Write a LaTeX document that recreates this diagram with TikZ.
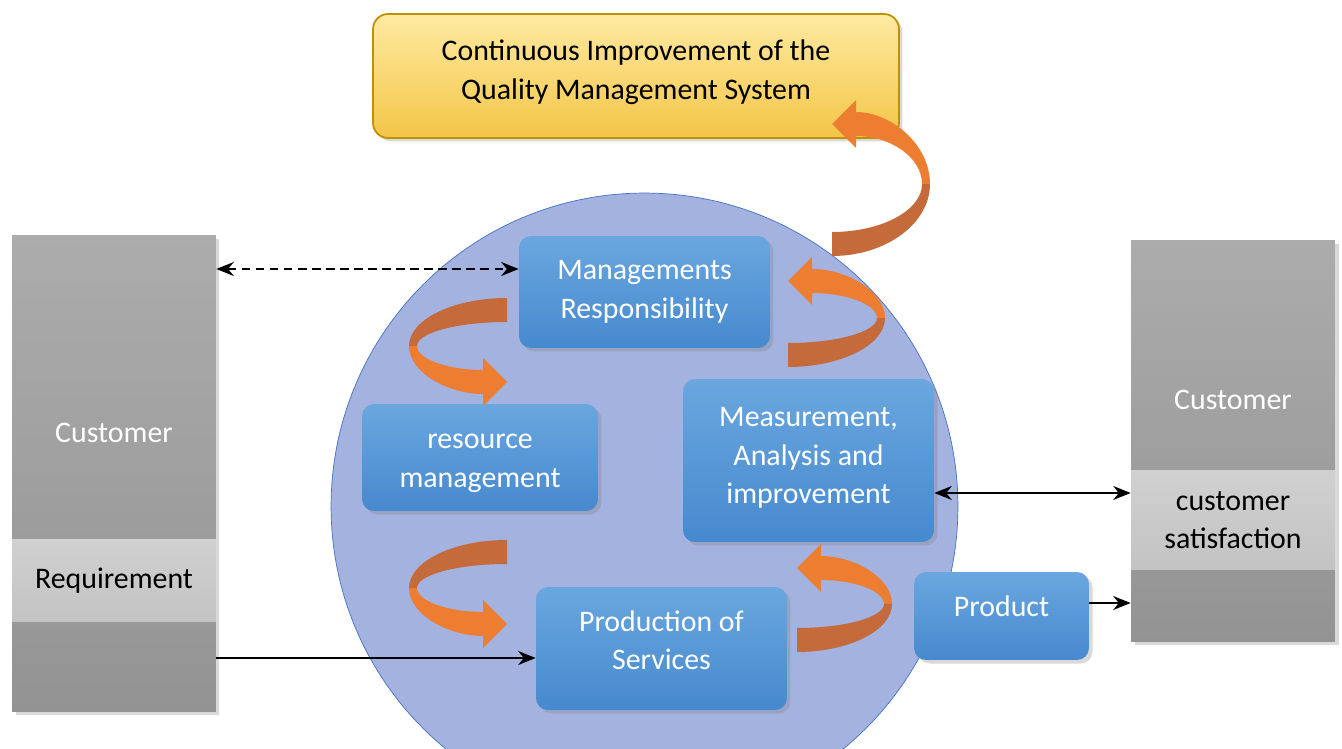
\documentclass[tikz,border=0pt]{standalone}
\usepackage{fontspec}
\setmainfont{Carlito}
\usetikzlibrary{shapes,positioning,calc,arrows.meta,shadows}

\definecolor{qmscircle}{RGB}{163,178,223}
\definecolor{qmsline}{RGB}{68,114,196}
\definecolor{boxtop}{RGB}{106,167,223}
\definecolor{boxbot}{RGB}{70,137,206}
\definecolor{coltop}{RGB}{172,172,172}
\definecolor{colbot}{RGB}{147,147,147}
\definecolor{bandtop}{RGB}{208,208,208}
\definecolor{bandbot}{RGB}{195,195,195}
\definecolor{goaltop}{RGB}{255,234,162}
\definecolor{goalbot}{RGB}{242,197,70}
\definecolor{goalline}{RGB}{191,144,0}
\definecolor{ribfront}{RGB}{237,125,49}
\definecolor{ribback}{RGB}{197,106,58}

\tikzset{
    softshadow/.style={drop shadow={opacity=.3, shadow xshift=2pt, shadow yshift=-2pt}},
    procbox/.style={rectangle, rounded corners=0.24cm, top color=boxtop, bottom color=boxbot, text=white, align=center, softshadow},
    goalbox/.style={rectangle, rounded corners=0.3cm, top color=goaltop, bottom color=goalbot, draw=goalline, line width=1pt, align=center, minimum width=10.52cm, minimum height=2.48cm, softshadow},
    custcol/.style={rectangle, top color=coltop, bottom color=colbot, minimum width=4.08cm, softshadow},
    custband/.style={rectangle, top color=bandtop, bottom color=bandbot, minimum width=4.08cm, align=center},
    oneway/.style={line width=1pt, -{Stealth[length=3.5mm, width=2.8mm]}},
    twoway/.style={line width=1pt, {Stealth[length=3.5mm, width=2.8mm]}-{Stealth[length=3.5mm, width=2.8mm]}},
    ribfill/.style={fill=ribfront},
    ribdark/.style={fill=ribback}
}

\begin{document}
\begin{tikzpicture}[x=0.02cm, y=-0.02cm, font=\fontsize{17}{22}\selectfont]
    \useasboundingbox (0,0) rectangle (1342,749);
    \clip (0,0) rectangle (1342,749);

    % Background circle
    \draw [draw=qmsline, fill=qmscircle] (644.5,506.5) circle [radius=6.27cm];

    % Goal box
    \node [goalbox, text depth=0.26cm] (cimp) at (636,76) {Continuous Improvement of the\\Quality Management System};

    % Customer columns
    \node [custcol, minimum height=9.54cm] (custL) at (114,473.5) {};
    \node [text=white] (custLtxt) at (114,433) {Customer};
    \node [custband, minimum height=1.66cm] (req) at (114,580.5) {Requirement};

    \node [custcol, minimum height=8.04cm] (custR) at (1233,441) {};
    \node [text=white] (custRtxt) at (1233,400) {Customer};
    \node [custband, minimum height=2cm] (sat) at (1233,520) {customer\\satisfaction};

    % Process boxes
    \node [procbox, minimum width=5.02cm, minimum height=2.24cm] (mgmt) at (644.5,292) {Managements\\Responsibility};
    \node [procbox, minimum width=4.72cm, minimum height=2.14cm, text height=1.3cm] (res) at (480,457.5) {resource\\management};
    \node [procbox, minimum width=5.02cm, minimum height=3.26cm, text depth=0.2cm] (meas) at (808.5,460.5) {Measurement,\\Analysis and\\improvement};
    \node [procbox, minimum width=5.02cm, minimum height=2.46cm, text depth=0.34cm] (prod) at (661.5,648.5) {Production of\\Services};
    \node [procbox, minimum width=3.5cm, minimum height=1.76cm, text depth=0.4cm] (product) at (1001.5,616) {Product};

    % Curved arrows
    \foreach \cx/\cy/\rx/\ry/\s in {832/184/98/60/1, 788/318/97/37/1, 797/604/95/36/1, 507/346/98/36/-1, 507/588/98/36/-1}
    {
        \begin{scope}[shift={(\cx,\cy)}, xscale=\s, yscale=\s]
            \fill [ribdark] (0,{\ry+12}) .. controls ({0.55*\rx},{\ry+12}) and (\rx,{0.55*(\ry+12)}) .. (\rx,0) -- ({\rx-8},0) .. controls ({\rx-8},{0.55*(\ry-12)}) and ({0.55*(\rx-8)},{\ry-12}) .. (0,{\ry-12}) -- cycle;
            \fill [ribfill] (\rx,0) .. controls (\rx,{-0.55*(\ry+12)}) and ({0.6*\rx},{-(\ry+12)}) .. (24,{-(\ry+12)}) -- (24,{-(\ry+24)}) -- (0,-\ry) -- (24,{-(\ry-24)}) -- (24,{-(\ry-12)}) .. controls ({0.6*\rx},{-(\ry-12)}) and ({\rx-8},{-0.55*(\ry-12)}) .. ({\rx-8},0) -- cycle;
        \end{scope}
    }

    % Connectors
    \coordinate (mgmtin) at ([yshift=0.46cm]mgmt.west);
    \draw [twoway, dash pattern=on 5pt off 3pt] (custL.east |- mgmtin) -- (mgmtin);

    \coordinate (prodin) at ([yshift=-0.19cm]prod.west);
    \draw [oneway] (custL.east |- prodin) -- (prodin);

    \coordinate (measout) at ([yshift=-0.65cm]meas.east);
    \draw [twoway] (measout) -- (custR.west |- measout);

    \coordinate (productout) at ([yshift=0.26cm]product.east);
    \draw [oneway] (productout) -- (custR.west |- productout);
\end{tikzpicture}
\end{document}
